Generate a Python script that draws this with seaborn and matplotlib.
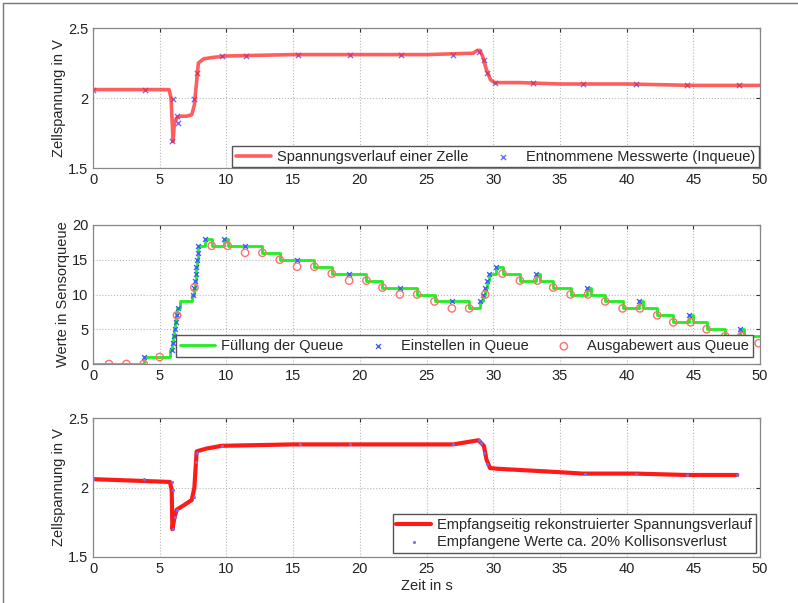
import matplotlib
matplotlib.use("Agg")
import matplotlib.pyplot as plt
from matplotlib.lines import Line2D
import seaborn as sns

# --- top panel: measured cell voltage and sampled values (inqueue)
t_volt = [0, 5.7, 5.85, 5.95, 6.0, 6.1, 6.3, 6.5, 7.0, 7.4, 7.6, 7.75, 7.9, 8.3, 9.0, 10,
          15, 20, 25, 28.5, 28.8, 29.0, 29.2, 29.5, 29.8, 30.1, 32, 35, 40, 45, 50]
u_volt = [2.06, 2.06, 2.0, 1.80, 1.69, 1.82, 1.86, 1.87, 1.87, 1.88, 1.95, 2.10, 2.25, 2.28,
          2.29, 2.30, 2.31, 2.31, 2.31, 2.32, 2.34, 2.34, 2.30, 2.20, 2.13, 2.11, 2.11, 2.10,
          2.10, 2.09, 2.09]
t_inq = [0, 3.9, 5.97, 5.95, 6.27, 6.35, 7.57, 7.77, 9.7, 11.5, 15.4, 19.3, 23.1, 27.0,
         28.9, 29.3, 29.5, 30.1, 33.0, 36.7, 40.7, 44.5, 48.4]
u_inq = [2.06, 2.06, 1.99, 1.69, 1.87, 1.82, 1.99, 2.18, 2.30, 2.30, 2.31, 2.31, 2.31, 2.31,
         2.33, 2.27, 2.18, 2.11, 2.11, 2.10, 2.10, 2.09, 2.09]

# --- middle panel: queue fill level
t_fill = [0, 3.8, 5.8, 5.9, 6.0, 6.1, 6.15, 6.2, 6.3, 6.5, 7.4, 7.55, 7.65, 7.7, 7.75, 7.8,
          7.85, 7.9, 8.4, 8.9, 9.8, 10.1, 12.7, 14.0, 16.6, 17.9, 20.5, 21.7, 24.3, 25.6,
          28.2, 29.0, 29.2, 29.35, 29.5, 29.7, 30.2, 30.7, 32.0, 33.2, 33.5, 34.5, 35.8,
          37.0, 37.3, 38.4, 39.7, 40.9, 41.2, 42.3, 43.5, 44.7, 45.0, 46.0, 47.4, 48.5,
          48.8, 50.0]
n_fill = [0, 1, 2, 3, 4, 5, 6, 7, 8, 9, 10, 11, 12, 13, 14, 15,
          16, 17, 18, 17, 18, 17, 16, 15, 14, 13, 12, 11, 10, 9,
          8, 9, 10, 11, 12, 13, 14, 13, 12, 13, 12, 11, 10,
          11, 10, 9, 8, 9, 8, 7, 6, 7, 6, 5, 4, 5,
          4, 4]
t_in = [3.8, 5.9, 6.0, 6.1, 6.15, 6.2, 6.3, 6.4, 7.5, 7.6, 7.65, 7.7, 7.75, 7.8, 7.85, 7.9,
        8.4, 9.8, 11.4, 15.3, 19.2, 23.0, 26.9, 29.0, 29.2, 29.35, 29.5, 29.7, 30.2, 33.2,
        37.0, 40.9, 44.7, 48.5]
n_in = [1, 2, 3, 4, 5, 6, 7, 8, 10, 11, 12, 13, 14, 15, 16, 17,
        18, 18, 17, 15, 13, 11, 9, 9, 10, 11, 12, 13, 14, 13,
        11, 9, 7, 5]
t_out = [1.2, 2.5, 3.8, 5.0, 6.3, 7.6, 8.9, 10.1, 11.4, 12.7, 14.0, 15.3, 16.6, 17.9, 19.2,
         20.5, 21.7, 23.0, 24.3, 25.6, 26.9, 28.2, 29.4, 30.7, 32.0, 33.3, 34.5, 35.8, 37.1,
         38.4, 39.7, 41.0, 42.3, 43.5, 44.8, 46.0, 47.4, 48.6, 49.9]
n_out = [0, 0, 0, 1, 7, 11, 17, 17, 16, 16, 15, 14, 14, 13, 12,
         12, 11, 10, 10, 9, 8, 8, 10, 13, 12, 12, 11, 10, 10,
         9, 8, 8, 7, 6, 6, 5, 4, 4, 3]

# --- bottom panel: reconstructed voltage at receiver
t_rec = [0, 5.77, 5.9, 5.95, 6.1, 6.27, 6.77, 7.4, 7.6, 7.77, 8.5, 9.65, 15, 20, 25, 27,
         28.9, 29.3, 29.5, 29.76, 30.3, 35, 36.7, 40.7, 44.5, 48.3]
u_rec = [2.06, 2.04, 1.98, 1.70, 1.78, 1.84, 1.87, 1.91, 2.0, 2.26, 2.28, 2.30, 2.31, 2.31,
         2.31, 2.31, 2.34, 2.30, 2.20, 2.14, 2.135, 2.11, 2.10, 2.10, 2.09, 2.09]
t_rx = [0, 3.8, 5.9, 5.97, 6.0, 6.12, 6.3, 7.6, 7.72, 7.8, 9.7, 15.5, 19.3, 27.0, 28.9,
        29.1, 29.3, 29.5, 36.9, 40.7, 44.5, 48.3]
u_rx = [2.06, 2.06, 2.04, 1.98, 1.70, 1.79, 1.84, 1.93, 2.18, 2.25, 2.30, 2.31, 2.31, 2.31,
        2.34, 2.32, 2.25, 2.17, 2.10, 2.10, 2.09, 2.09]

sns.set_style("white")
plt.rcParams['font.family'] = ['Liberation Sans', 'DejaVu Sans']
plt.rcParams['font.size'] = 10.5

fig = plt.figure(figsize=(7.98, 6.03), dpi=100)
left, width = 93 / 798, 667 / 798
ax1 = fig.add_axes([left, 1 - 168 / 603, width, 140 / 603])
ax2 = fig.add_axes([left, 1 - 364 / 603, width, 139 / 603])
ax3 = fig.add_axes([left, 1 - 557 / 603, width, 139 / 603])

sns.lineplot(x=t_volt, y=u_volt, ax=ax1, color='#ff2828', lw=2.6, alpha=0.75,
             label='Spannungsverlauf einer Zelle')
sns.scatterplot(x=t_inq, y=u_inq, ax=ax1, marker='x', color='#7070ff', s=14, linewidth=1,
                label='Entnommene Messwerte (Inqueue)')

sns.lineplot(x=t_fill, y=n_fill, ax=ax2, color='#20ee20', lw=2, drawstyle='steps-post',
             label='Füllung der Queue')
sns.scatterplot(x=t_in, y=n_in, ax=ax2, marker='x', color='#4060ff', s=12, linewidth=1,
                label='Einstellen in Queue', zorder=3)
sns.scatterplot(x=t_out, y=n_out, ax=ax2, marker='o', facecolor='none', edgecolor='#ff7070',
                s=28, linewidth=1, label='Ausgabewert aus Queue', zorder=3)

sns.lineplot(x=t_rec, y=u_rec, ax=ax3, color='#ff1a1a', lw=3,
             label='Empfangseitig rekonstruierter Spannungsverlauf')
sns.scatterplot(x=t_rx, y=u_rx, ax=ax3, marker='.', color='#7070ff', s=20, linewidth=0,
                label='Empfangene Werte ca. 20% Kollisonsverlust', zorder=3)

for ax in (ax1, ax2, ax3):
    ax.set_xlim(0, 50)
    ax.set_xticks(range(0, 51, 5))
    ax.grid(True, linestyle=':', color='#b8b8b8', lw=0.8)
    ax.tick_params(direction='in', length=3, top=True, right=True, colors='#333333',
                   labelcolor='#222222', labelsize=10.5)
    for s in ax.spines.values():
        s.set_color('#888888')
        s.set_linewidth(0.9)

for ax in (ax1, ax3):
    ax.set_ylim(1.5, 2.5)
    ax.set_yticks([1.5, 2, 2.5])
    ax.set_yticklabels(['1.5', '2', '2.5'])
    ax.set_ylabel('Zellspannung in V', labelpad=1)
ax2.set_ylim(0, 20)
ax2.set_yticks(range(0, 21, 5))
ax2.set_ylabel('Werte in Sensorqueue', labelpad=1)
ax3.set_xlabel('Zeit in s', labelpad=2)

leg_kw = dict(loc='lower right', fancybox=False, edgecolor='#555555', framealpha=1,
              borderpad=0.25, handletextpad=0.4, labelspacing=0.2, fontsize=10.5)
ax1.legend(ncol=2, columnspacing=1.2, handlelength=2.4, borderaxespad=0.05, **leg_kw)
ax2.legend(ncol=3, columnspacing=1.2, handlelength=2.4, borderaxespad=0.5, **leg_kw)
ax3.legend(ncol=1, handlelength=2.4, borderaxespad=0.3, **leg_kw)

fig.add_artist(Line2D([3 / 798, 1], [1 - 3 / 603, 1 - 3 / 603], color='#777777', lw=1))
fig.add_artist(Line2D([3 / 798, 3 / 798], [0, 1 - 3 / 603], color='#777777', lw=1))

fig.savefig('out.png', dpi=100)
